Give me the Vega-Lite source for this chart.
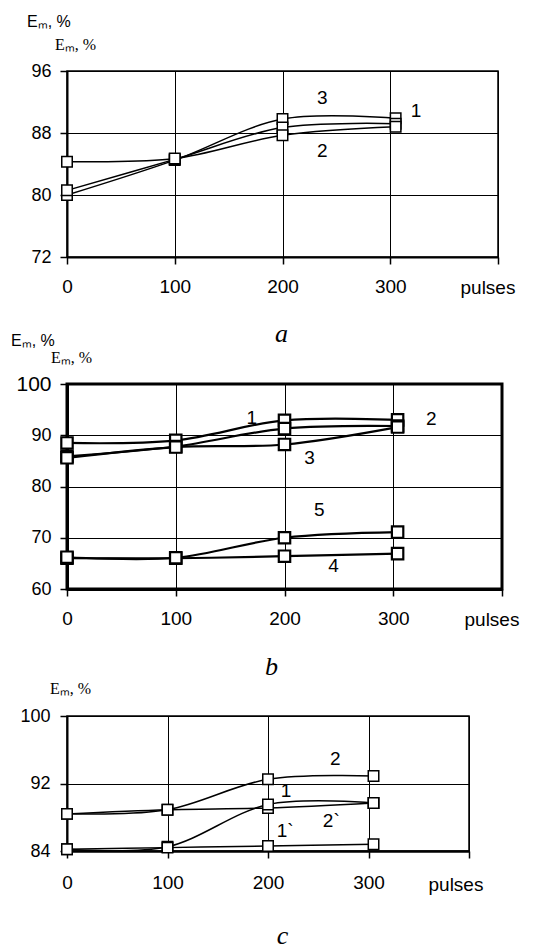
{
  "$schema": "https://vega.github.io/schema/vega-lite/v6.json",
  "background": "white",
  "padding": {"left": 9, "top": 13, "right": 0, "bottom": 0},
  "bounds": "flush",
  "spacing": 127,
  "config": {
    "font": "Liberation Sans",
    "axis": {
      "grid": true, "gridColor": "black", "gridWidth": 1, "gridOpacity": 1,
      "domainColor": "black", "tickColor": "black", "tickWidth": 1.5, "tickSize": 7,
      "labelColor": "black", "labelFont": "Liberation Sans", "labelFlush": false,
      "labelOverlap": false, "labelBound": false,
      "titleColor": "black", "titleFontWeight": "normal"
    }
  },
  "datasets": {
    "curves": [
      {"panel": "a", "series": "3", "pulses": 0, "E": 80.0},
      {"panel": "a", "series": "3", "pulses": 100, "E": 84.5},
      {"panel": "a", "series": "3", "pulses": 200, "E": 89.8},
      {"panel": "a", "series": "3", "pulses": 305, "E": 89.9},
      {"panel": "a", "series": "1", "pulses": 0, "E": 80.6},
      {"panel": "a", "series": "1", "pulses": 100, "E": 84.6},
      {"panel": "a", "series": "1", "pulses": 200, "E": 88.7},
      {"panel": "a", "series": "1", "pulses": 305, "E": 89.2},
      {"panel": "a", "series": "2", "pulses": 0, "E": 84.3},
      {"panel": "a", "series": "2", "pulses": 100, "E": 84.7},
      {"panel": "a", "series": "2", "pulses": 200, "E": 87.7},
      {"panel": "a", "series": "2", "pulses": 305, "E": 88.8},
      {"panel": "b", "series": "1", "pulses": 0, "E": 88.5},
      {"panel": "b", "series": "1", "pulses": 100, "E": 89.0},
      {"panel": "b", "series": "1", "pulses": 200, "E": 92.9},
      {"panel": "b", "series": "1", "pulses": 304, "E": 93.0},
      {"panel": "b", "series": "2", "pulses": 0, "E": 85.9},
      {"panel": "b", "series": "2", "pulses": 100, "E": 87.8},
      {"panel": "b", "series": "2", "pulses": 200, "E": 91.3},
      {"panel": "b", "series": "2", "pulses": 304, "E": 91.8},
      {"panel": "b", "series": "3", "pulses": 0, "E": 85.6},
      {"panel": "b", "series": "3", "pulses": 100, "E": 87.7},
      {"panel": "b", "series": "3", "pulses": 200, "E": 88.2},
      {"panel": "b", "series": "3", "pulses": 304, "E": 91.6},
      {"panel": "b", "series": "4", "pulses": 0, "E": 66.0},
      {"panel": "b", "series": "4", "pulses": 100, "E": 66.0},
      {"panel": "b", "series": "4", "pulses": 200, "E": 66.4},
      {"panel": "b", "series": "4", "pulses": 304, "E": 66.9},
      {"panel": "b", "series": "5", "pulses": 0, "E": 66.2},
      {"panel": "b", "series": "5", "pulses": 100, "E": 66.1},
      {"panel": "b", "series": "5", "pulses": 200, "E": 70.0},
      {"panel": "b", "series": "5", "pulses": 304, "E": 71.1},
      {"panel": "c", "series": "2", "pulses": 0, "E": 88.4},
      {"panel": "c", "series": "2", "pulses": 100, "E": 88.9},
      {"panel": "c", "series": "2", "pulses": 200, "E": 92.5},
      {"panel": "c", "series": "2", "pulses": 305, "E": 92.9},
      {"panel": "c", "series": "2`", "pulses": 0, "E": 88.4},
      {"panel": "c", "series": "2`", "pulses": 100, "E": 88.9},
      {"panel": "c", "series": "2`", "pulses": 200, "E": 89.1},
      {"panel": "c", "series": "2`", "pulses": 305, "E": 89.7},
      {"panel": "c", "series": "1", "pulses": 0, "E": 84.2},
      {"panel": "c", "series": "1", "pulses": 100, "E": 84.5},
      {"panel": "c", "series": "1", "pulses": 200, "E": 89.5},
      {"panel": "c", "series": "1", "pulses": 305, "E": 89.7},
      {"panel": "c", "series": "1`", "pulses": 0, "E": 84.2},
      {"panel": "c", "series": "1`", "pulses": 100, "E": 84.4},
      {"panel": "c", "series": "1`", "pulses": 200, "E": 84.6},
      {"panel": "c", "series": "1`", "pulses": 305, "E": 84.8}
    ],
    "labels": [
      {"panel": "a", "label": "3", "pulses": 237, "E": 92.5},
      {"panel": "a", "label": "1", "pulses": 324, "E": 90.8},
      {"panel": "a", "label": "2", "pulses": 237, "E": 85.7},
      {"panel": "b", "label": "1", "pulses": 170, "E": 93.4},
      {"panel": "b", "label": "2", "pulses": 335, "E": 93.2},
      {"panel": "b", "label": "3", "pulses": 223, "E": 85.5},
      {"panel": "b", "label": "5", "pulses": 232, "E": 75.4},
      {"panel": "b", "label": "4", "pulses": 245, "E": 64.4},
      {"panel": "c", "label": "2", "pulses": 267, "E": 94.9},
      {"panel": "c", "label": "1", "pulses": 218, "E": 91.1},
      {"panel": "c", "label": "2`", "pulses": 263, "E": 87.6},
      {"panel": "c", "label": "1`", "pulses": 217, "E": 86.4}
    ]
  },
  "vconcat": [
    {
      "width": 431, "height": 186,
      "view": {"stroke": "black", "strokeWidth": 1.5},
      "title": {"text": "Eₘ, %", "subtitle": "\u200b\u00a0\u00a0\u00a0\u00a0\u00a0\u00a0\u00a0Eₘ, %", "anchor": "start", "frame": "group", "dx": -40,
        "font": "Liberation Sans", "fontSize": 16, "fontWeight": "normal", "color": "black",
        "subtitleFont": "Liberation Serif", "subtitleFontSize": 16, "subtitleColor": "black", "subtitlePadding": 7, "offset": 9},
      "encoding": {
        "x": {"field": "pulses", "type": "quantitative", "scale": {"domain": [0, 400], "nice": false},
          "axis": {"values": [0, 100, 200, 300, 400], "labelExpr": "datum.value == 400 ? '' : datum.label",
            "domainWidth": 2, "labelFontSize": 19, "labelPadding": 13,
            "title": "pulses", "titleX": 393, "titleY": 36, "titleAlign": "left", "titleBaseline": "alphabetic", "titleFontSize": 19, "titleFont": "Liberation Sans"}},
        "y": {"field": "E", "type": "quantitative", "scale": {"domain": [72, 96], "nice": false, "zero": false},
          "axis": {"values": [72, 80, 88, 96], "domainWidth": 2, "labelFontSize": 18, "labelPadding": 9,
            "title": "a", "titleAngle": 0, "titleX": 214, "titleY": 270, "titleAlign": "center", "titleBaseline": "alphabetic",
            "titleFont": "Liberation Serif", "titleFontStyle": "italic", "titleFontSize": 26}}
      },
      "layer": [
        {"data": {"name": "curves"}, "transform": [{"filter": "datum.panel == 'a'"}],
          "mark": {"type": "line", "interpolate": "cardinal", "stroke": "black", "strokeWidth": 1.5},
          "encoding": {"detail": {"field": "series", "type": "nominal"}}},
        {"data": {"name": "curves"}, "transform": [{"filter": "datum.panel == 'a'"}],
          "mark": {"type": "point", "shape": "square", "filled": true, "fill": "white", "stroke": "black", "strokeWidth": 1.5, "size": 110, "opacity": 1}},
        {"data": {"name": "labels"}, "transform": [{"filter": "datum.panel == 'a'"}],
          "mark": {"type": "text", "font": "Liberation Sans", "fontSize": 19, "color": "black", "align": "center", "baseline": "middle"},
          "encoding": {"text": {"field": "label"}}}
      ]
    },
    {
      "width": 435, "height": 205,
      "view": {"stroke": "black", "strokeWidth": 3},
      "title": {"text": "Eₘ, %", "subtitle": "\u200b\u00a0\u00a0\u00a0\u00a0\u00a0\u00a0\u00a0\u00a0\u00a0\u00a0Eₘ, %", "anchor": "start", "frame": "group", "dx": -56,
        "font": "Liberation Sans", "fontSize": 16, "fontWeight": "normal", "color": "black",
        "subtitleFont": "Liberation Serif", "subtitleFontSize": 16, "subtitleColor": "black", "subtitlePadding": 1, "offset": 7},
      "encoding": {
        "x": {"field": "pulses", "type": "quantitative", "scale": {"domain": [0, 400], "nice": false},
          "axis": {"values": [0, 100, 200, 300, 400], "labelExpr": "datum.value == 400 ? '' : datum.label",
            "domainWidth": 3, "labelFontSize": 19, "labelPadding": 13,
            "title": "pulses", "titleX": 397, "titleY": 36, "titleAlign": "left", "titleBaseline": "alphabetic", "titleFontSize": 19, "titleFont": "Liberation Sans"}},
        "y": {"field": "E", "type": "quantitative", "scale": {"domain": [60, 100], "nice": false, "zero": false},
          "axis": {"values": [60, 70, 80, 90, 100], "domainWidth": 3,
            "labelFontSize": {"condition": {"test": "datum.value == 100", "value": 21}, "value": 18}, "labelPadding": 9,
            "title": "b", "titleAngle": 0, "titleX": 204, "titleY": 290, "titleAlign": "center", "titleBaseline": "alphabetic",
            "titleFont": "Liberation Serif", "titleFontStyle": "italic", "titleFontSize": 26}}
      },
      "layer": [
        {"data": {"name": "curves"}, "transform": [{"filter": "datum.panel == 'b'"}],
          "mark": {"type": "line", "interpolate": "cardinal", "stroke": "black", "strokeWidth": 2.2},
          "encoding": {"detail": {"field": "series", "type": "nominal"}}},
        {"data": {"name": "curves"}, "transform": [{"filter": "datum.panel == 'b'"}],
          "mark": {"type": "point", "shape": "square", "filled": true, "fill": "white", "stroke": "black", "strokeWidth": 2.2, "size": 130, "opacity": 1}},
        {"data": {"name": "labels"}, "transform": [{"filter": "datum.panel == 'b'"}],
          "mark": {"type": "text", "font": "Liberation Sans", "fontSize": 19, "color": "black", "align": "center", "baseline": "middle"},
          "encoding": {"text": {"field": "label"}}}
      ]
    },
    {
      "width": 402, "height": 135,
      "view": {"stroke": "black", "strokeWidth": 1.5},
      "title": {"text": "Eₘ, %", "anchor": "start", "frame": "group", "dx": -17,
        "font": "Liberation Serif", "fontSize": 16, "fontWeight": "normal", "color": "black", "offset": 10},
      "encoding": {
        "x": {"field": "pulses", "type": "quantitative", "scale": {"domain": [0, 400], "nice": false},
          "axis": {"values": [0, 100, 200, 300, 400], "labelExpr": "datum.value == 400 ? '' : datum.label",
            "domainWidth": 2.5, "labelFontSize": 19, "labelPadding": 15,
            "title": "pulses", "titleX": 361, "titleY": 39, "titleAlign": "left", "titleBaseline": "alphabetic", "titleFontSize": 19, "titleFont": "Liberation Sans"}},
        "y": {"field": "E", "type": "quantitative", "scale": {"domain": [84, 100], "nice": false, "zero": false},
          "axis": {"values": [84, 92, 100], "domainWidth": 2, "labelFontSize": 18, "labelPadding": 10,
            "title": "c", "titleAngle": 0, "titleX": 215, "titleY": 227, "titleAlign": "center", "titleBaseline": "alphabetic",
            "titleFont": "Liberation Serif", "titleFontStyle": "italic", "titleFontSize": 26}}
      },
      "layer": [
        {"data": {"name": "curves"}, "transform": [{"filter": "datum.panel == 'c'"}],
          "mark": {"type": "line", "interpolate": "cardinal", "stroke": "black", "strokeWidth": 1.5},
          "encoding": {"detail": {"field": "series", "type": "nominal"}}},
        {"data": {"name": "curves"}, "transform": [{"filter": "datum.panel == 'c'"}],
          "mark": {"type": "point", "shape": "square", "filled": true, "fill": "white", "stroke": "black", "strokeWidth": 1.5, "size": 110, "opacity": 1}},
        {"data": {"name": "labels"}, "transform": [{"filter": "datum.panel == 'c'"}],
          "mark": {"type": "text", "font": "Liberation Sans", "fontSize": 19, "color": "black", "align": "center", "baseline": "middle"},
          "encoding": {"text": {"field": "label"}}}
      ]
    }
  ]
}
